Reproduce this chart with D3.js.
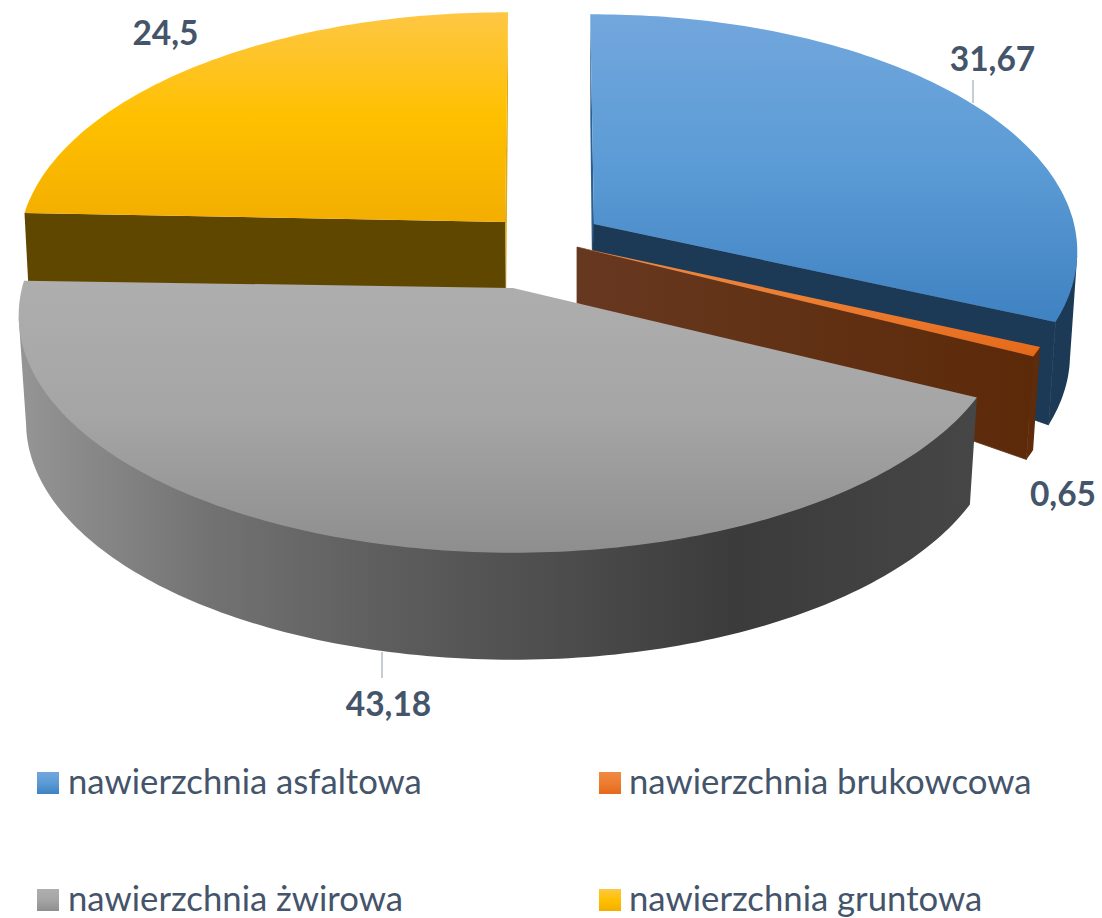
<!DOCTYPE html>
<html><head><meta charset="utf-8">
<script src="https://cdn.jsdelivr.net/npm/d3@7/dist/d3.min.js"></script>
<style>html,body{margin:0;padding:0;background:#fff}svg{display:block}</style>
</head><body><svg id="c" width="1102" height="918"></svg>
<script>
const categories = ["nawierzchnia asfaltowa","nawierzchnia brukowcowa","nawierzchnia żwirowa","nawierzchnia gruntowa"];
const values = [31.67,0.65,43.18,24.5];
const valueLabels = ["31,67","0,65","43,18","24,5"];

// layout of the exploded, tilted pie
const RY = 234, K = 0.116;
const geometry = [
  {cx:594,cy:224,r:480,rot:-0.5,depth:103,apexDepth:40,shrink:0.985,apexDx:-2},
  {cx:577,cy:247,r:483,rot:0,   depth:103,apexDepth:56,shrink:0.985,apexDx:0},
  {cx:513,cy:288,r:491,rot:0,   depth:107,apexDepth:60,shrink:0.985,apexDx:0},
  {cx:505,cy:222,r:483,rot:0.4, depth:90, apexDepth:90,shrink:0.99, apexDx:1}
];
const topColors = [["#72a7dd","#5b9bd5","#3f82c2"],["#ef8a45","#ed7d31","#e5691a"],["#aeaeae","#a5a5a5","#8e8e8e"],["#fec744","#ffc000","#f3ae00"]];
const wallColors = ["#1c3a56","#5e2b0b","#4a4a4a","#604700"];
const sideStrip = ["#2c5f92","#5e2b0b","#4a4a4a","#dcab1c"];
const grayWallStops = [[0,"#959595"],[0.12,"#808080"],[0.2,"#727272"],[0.38,"#5e5e5e"],[0.75,"#3b3b3b"],[1,"#464646"]];

const svg = d3.select("#c"), defs = svg.append("defs");
const arcs = d3.pie().sort(null).value(d=>d)(values);
const ln = d3.line();

function pt(g,a,rf=1){
  const t = a + g.rot*Math.PI/180, u = Math.sin(t)*rf, v = -Math.cos(t)*rf;
  const p = 1/(1-K*v);
  return [g.cx+g.r*u*p, g.cy+RY*v*p];
}
function bot(g,a,rf=1){
  const [x,y] = pt(g,a,rf);
  const d = g.apexDepth+(g.depth-g.apexDepth)*rf;
  return [g.cx+g.apexDx*(1-rf)+(x-g.cx)*g.shrink, y+d];
}
function samples(a0,a1){
  const n = Math.max(2,Math.ceil((a1-a0)*180/Math.PI));
  return d3.range(n+1).map(i=>a0+(a1-a0)*i/n);
}
categories.forEach((c,i)=>{
  const gr = defs.append("linearGradient").attr("id","top"+i).attr("x1",0).attr("x2",0).attr("y1",0).attr("y2",1);
  topColors[i].forEach((col,j)=>gr.append("stop").attr("offset",j/2).attr("stop-color",col));
});
const wg = defs.append("linearGradient").attr("id","grayWall").attr("gradientUnits","userSpaceOnUse")
  .attr("x1",20).attr("x2",975).attr("y1",0).attr("y2",0);
grayWallStops.forEach(s=>wg.append("stop").attr("offset",s[0]).attr("stop-color",s[1]));
const og = defs.append("linearGradient").attr("id","orangeCut").attr("gradientUnits","userSpaceOnUse")
  .attr("x1",577).attr("x2",1035).attr("y1",0).attr("y2",0);
og.append("stop").attr("offset",0).attr("stop-color","#673820");
og.append("stop").attr("offset",1).attr("stop-color","#5c2a09");

const order = [3,0,1,2];
order.forEach(i=>{
  const g = geometry[i], d = arcs[i], S = samples(d.startAngle,d.endAngle);
  const layer = svg.append("g");
  const wallFill = i===2 ? "url(#grayWall)" : wallColors[i];
  const poly = (pts,fill)=>layer.append("path").attr("d",ln(pts)+"Z").attr("fill",fill);
  // far-side cut faces first
  if(i===0) poly([pt(g,d.startAngle),pt(g,0,0),bot(g,0,0),bot(g,d.startAngle)],sideStrip[i]);
  if(i===3){
    poly([pt(g,d.endAngle),pt(g,0,0),bot(g,0,0),bot(g,d.endAngle)],sideStrip[i]);
    poly([pt(g,d.startAngle),pt(g,0,0),bot(g,0,0),bot(g,d.startAngle)],wallColors[i]);
  }
  // outer wall: all sampled quads in one path, same winding; it starts just inside the rim to avoid a light seam
  const wallD = d3.pairs(S).filter(([a,b])=>-Math.cos((a+b)/2) > -0.02)
    .map(([a,b])=>{
      const q = [pt(g,a,0.99),pt(g,b,0.99),pt(g,b),bot(g,b),bot(g,a),pt(g,a)];
      if(d3.polygonArea(q)<0) q.reverse();
      return ln(q)+"Z";
    }).join("");
  if(wallD) layer.append("path").attr("d",wallD).attr("fill",wallFill);
  // visible cut face on the right-hand slices
  if(i===0||i===1){
    const f = i===1?"url(#orangeCut)":wallColors[i];
    poly([pt(g,d.endAngle),pt(g,0,0),bot(g,0,0),bot(g,d.endAngle)],f).attr("stroke",f).attr("stroke-width",0.8);
  }
  // top face
  layer.append("path").attr("d",ln([pt(g,0,0)].concat(S.map(a=>pt(g,a))))+"Z").attr("fill","url(#top"+i+")");
});

// leader lines and value labels
const labelPos = [[992.5,71],[1063,506],[388.5,716],[165.5,45]];
const leaders = [[[973,80],[973,103]],null,[[382,652],[382,678]],null];
leaders.forEach(l=>{ if(l) svg.append("path").attr("d",ln(l)).attr("stroke","#b4bcc8").attr("stroke-width",1.5).attr("fill","none"); });
svg.selectAll("text.v").data(valueLabels).join("text").attr("class","v")
  .attr("x",(d,i)=>labelPos[i][0]).attr("y",(d,i)=>labelPos[i][1]).attr("text-anchor","middle")
  .attr("font-family","Lato").attr("font-weight",700).attr("font-size",33.5).attr("fill","#44546a").text(d=>d);

// legend
const legX = d3.scaleOrdinal([0,1,2,3],[37,599,37,599]);
const legY = d3.scaleOrdinal([0,1,2,3],[772,772,889,889]);
const leg = svg.selectAll("g.l").data(categories).join("g").attr("class","l")
  .attr("transform",(d,i)=>`translate(${legX(i)},${legY(i)})`);
leg.append("rect").attr("width",22).attr("height",22).attr("fill",(d,i)=>`url(#top${i})`);
leg.append("text").attr("x",(d,i)=>i%2?30:31).attr("y",22).attr("font-family","Lato").attr("font-size",34.7).attr("fill","#44546a").text(d=>d);
</script></body></html>
